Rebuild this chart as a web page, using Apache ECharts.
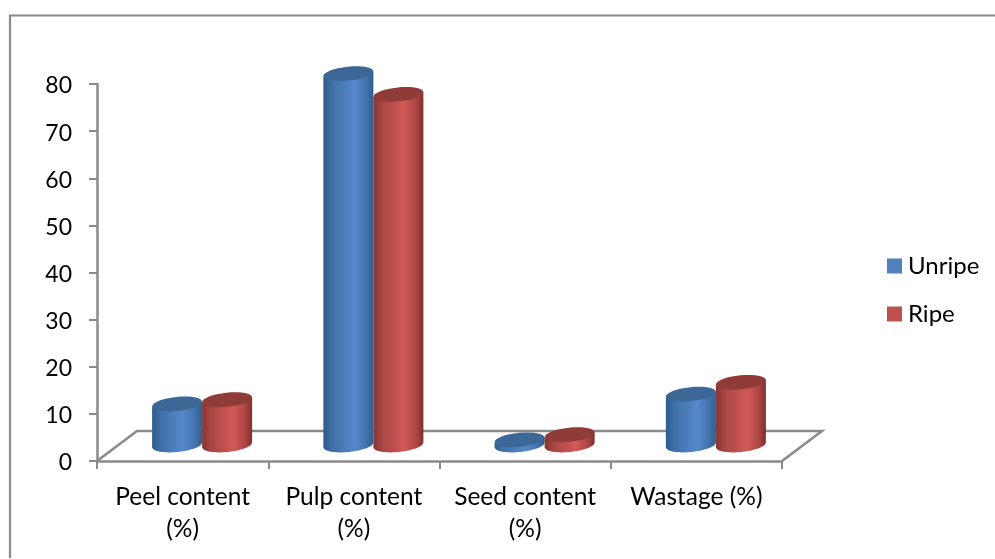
<!DOCTYPE html>
<html>
<head>
<meta charset="utf-8">
<style>html,body{margin:0;padding:0;background:#fff}#chart{width:995px;height:559px}</style>
<script src="https://cdn.jsdelivr.net/npm/echarts@6/dist/echarts.min.js"></script>
</head>
<body>
<div id="chart"></div>
<script>
// Fruit composition, unripe against ripe
const categories = ['Peel content\n(%)', 'Pulp content\n(%)', 'Seed content\n(%)', 'Wastage (%)'];
const unripe = [8.7, 78.8, 1.1, 10.8];
const ripe = [9.6, 74.4, 2.2, 13.3];
const yTicks = { min: 0, max: 80, interval: 10 };

const FONT = 'Lato, "Open Sans", sans-serif';
const GREY = '#8a8a8a';
const DEPTH_X = 40, DEPTH_Y = 30;   // floor depth of the pseudo-3D plot
const TILT = 0.1;                   // tilt of the cylinder caps, radians

function sideGradient(stops) {
  return new echarts.graphic.LinearGradient(0, 0, 1, 0,
    stops.map((c, i) => ({ offset: [0, 0.18, 0.62, 0.86, 1][i], color: c })));
}

const looks = [
  { name: 'Unripe', values: unripe, legend: '#4f81bd', cap: '#3c6797',
    side: ['#2f5b8c', '#3f70a8', '#5689cb', '#4373ab', '#305d90'] },
  { name: 'Ripe', values: ripe, legend: '#c0504d', cap: '#8f3b38',
    side: ['#843533', '#a94644', '#d15a56', '#ac4643', '#7d302e'] }
];

// One cylinder: tilted side wall, rounded foot and a darker cap
function cylinder(look, seriesIndex) {
  return function (params, api) {
    const cat = api.value(0);
    const base = api.coord([cat, 0]);
    const top = api.coord([cat, api.value(1)]);
    const rx = api.size([1, 0])[0] * 0.146;
    const ry = 7;
    const cx = base[0] + DEPTH_X / 2 - 0.5 + (seriesIndex === 0 ? -rx : rx);
    const yBase = base[1] - DEPTH_Y / 2 - 1;
    const yTop = top[1] - DEPTH_Y / 2 - 1;
    const dy = Math.sin(TILT) * rx;
    const fill = sideGradient(look.side);
    const cap = (cy, style) => ({
      type: 'ellipse',
      x: cx, y: cy, rotation: TILT,
      shape: { cx: 0, cy: 0, rx: rx, ry: ry },
      style: style
    });
    return {
      type: 'group',
      children: [
        cap(yBase, { fill: fill }),
        {
          type: 'polygon',
          shape: { points: [
            [cx - rx, yTop + dy], [cx + rx, yTop - dy],
            [cx + rx, yBase - dy], [cx - rx, yBase + dy]
          ] },
          style: { fill: fill }
        },
        cap(yTop, { fill: look.cap })
      ]
    };
  };
}

const chart = echarts.init(document.getElementById('chart'), null, { renderer: 'canvas' });

chart.setOption({
  animation: false,
  backgroundColor: '#ffffff',
  textStyle: { fontFamily: FONT },
  grid: { left: 97, right: 213, top: 84, bottom: 98, containLabel: false },
  legend: {
    orient: 'vertical',
    left: 887,
    top: 254,
    padding: 0,
    itemWidth: 15,
    itemHeight: 15,
    itemGap: 24,
    icon: 'rect',
    data: looks.map(l => l.name),
    textStyle: { fontFamily: FONT, fontSize: 24, color: '#000', padding: [0, 0, 0, 1] }
  },
  xAxis: {
    type: 'category',
    data: categories,
    axisLine: { show: true, lineStyle: { color: GREY, width: 2.5 } },
    axisTick: { show: true, alignWithLabel: false, length: 8, lineStyle: { color: GREY, width: 2 } },
    axisLabel: { fontFamily: FONT, fontSize: 24.5, color: '#000', lineHeight: 32, margin: 20, interval: 0 }
  },
  yAxis: {
    type: 'value',
    min: yTicks.min,
    max: yTicks.max,
    interval: yTicks.interval,
    splitLine: { show: false },
    axisLine: { show: true, lineStyle: { color: GREY, width: 2.5 } },
    axisTick: { show: true, length: 8, lineStyle: { color: GREY, width: 2 } },
    axisLabel: {
      margin: 25,
      formatter: '{num|{value}}',
      rich: { num: { fontFamily: FONT, fontSize: 23, color: '#000', padding: [4, 0, 0, 0] } }
    }
  },
  // Chart frame and floor outline
  graphic: [
    { type: 'polyline', silent: true, z: 0,
      shape: { points: [[10, 558], [10, 15.5], [995, 15.5]] },
      style: { stroke: GREY, lineWidth: 2.2, fill: 'none' } },
    { type: 'polyline', silent: true, z: 0,
      shape: { points: [[97, 461], [97 + DEPTH_X, 461 - DEPTH_Y], [782 + DEPTH_X, 461 - DEPTH_Y], [782, 461]] },
      style: { stroke: GREY, lineWidth: 2.5, fill: 'none' } }
  ],
  series: looks.map((look, i) => ({
    name: look.name,
    type: 'custom',
    coordinateSystem: 'cartesian2d',
    z: 5 + i,
    itemStyle: { color: look.legend },
    encode: { x: 0, y: 1 },
    data: look.values.map((v, c) => [c, v]),
    renderItem: cylinder(look, i)
  }))
});
</script>
</body>
</html>
